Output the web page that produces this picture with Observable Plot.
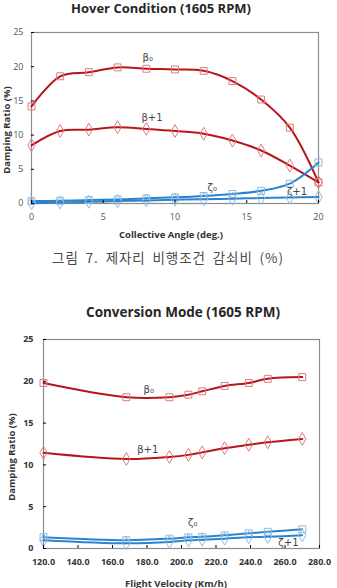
<!DOCTYPE html>
<html><head><meta charset="utf-8">
<script src="https://cdn.jsdelivr.net/npm/d3@7"></script>
<script src="https://cdn.jsdelivr.net/npm/@observablehq/plot@0.6"></script>
<style>
html,body{margin:0;padding:0;background:#fff}
body{width:337px;height:588px;position:relative;overflow:hidden;font-family:"Open Sans","DejaVu Sans",sans-serif}
.abs{position:absolute;white-space:nowrap;transform:translate(-50%,-50%)}
.title{font-weight:bold;font-size:13px;color:#262626}
.axt{font-weight:bold;font-size:9.5px;color:#333}
.rot{transform:translate(-50%,-50%) rotate(-90deg)}
.cap{font-family:"Noto Sans CJK KR",sans-serif;font-size:13.5px;color:#4a4a4a;letter-spacing:0.9px;word-spacing:3px}
#c1,#c2{position:absolute;left:0}
#c1{top:0}
#c2{top:300px}
</style>
</head><body>
<div class="abs title" style="left:161px;top:8px">Hover Condition (1605 RPM)</div>
<div class="abs axt rot" style="left:6px;top:130px">Damping Ratio (%)</div>
<div class="abs axt" style="left:171px;top:234px">Collective Angle (deg.)</div>
<div class="abs cap" style="left:168px;top:257px">그림 7. 제자리 비행조건 감쇠비 (%)</div>
<div class="abs title" style="left:183px;top:312px;font-size:13.5px">Conversion Mode (1605 RPM)</div>
<div class="abs axt rot" style="left:11px;top:457px">Damping Ratio (%)</div>
<div class="abs axt" style="left:176px;top:583px">Flight Velocity (Km/h)</div>
<div id="c1"></div>
<div id="c2"></div>
<script>
// ---- Hover condition data ----
const hoverAngle = [0, 2, 4, 6, 8, 10, 12, 14, 16, 18, 20];
const hoverBeta0 = [14.2, 18.6, 19.2, 19.9, 19.7, 19.6, 19.4, 17.9, 15.2, 11.1, 3.1];
const hoverBetaP1 = [8.5, 10.6, 10.8, 11.15, 10.9, 10.6, 10.2, 9.2, 7.75, 5.55, 3.1];
const hoverZeta0 = [0.35, 0.4, 0.5, 0.6, 0.75, 0.9, 1.1, 1.4, 1.85, 2.9, 6.0];
const hoverZetaP1 = [0.05, 0.15, 0.25, 0.35, 0.45, 0.55, 0.62, 0.7, 0.8, 0.88, 0.95];
const hoverXTicks = [0, 5, 10, 15, 20];
const hoverLabels = [
  {x: 8.1, y: 21.3, text: "β₀"},
  {x: 8.4, y: 12.6, text: "β+1"},
  {x: 12.6, y: 2.3, text: "ζ₀"},
  {x: 18.5, y: 1.75, text: "ζ+1"}
];

// ---- Conversion mode data ----
const convVelocity = [120, 168, 193, 204, 212, 225, 239, 250, 270];
const convBeta0 = [19.8, 18.1, 18.1, 18.4, 18.8, 19.45, 19.8, 20.3, 20.5];
const convBetaP1 = [11.45, 10.7, 10.95, 11.2, 11.5, 12.0, 12.4, 12.7, 13.1];
const convZeta0 = [1.35, 1.0, 1.18, 1.34, 1.4, 1.58, 1.82, 2.0, 2.3];
const convZetaP1 = [1.0, 0.62, 0.78, 0.98, 1.05, 1.18, 1.34, 1.4, 1.58];
const convXTicks = [120, 140, 160, 180, 200, 220, 240, 260, 280];
const convLabels = [
  {x: 181, y: 19.0, text: "β₀"},
  {x: 180.4, y: 11.8, text: "β+1"},
  {x: 206.5, y: 3.05, text: "ζ₀"},
  {x: 262, y: 0.65, text: "ζ+1"}
];

const yTicks = [0, 5, 10, 15, 20, 25];

const RED = "#b8141c", RED_M = "#e07a7a", BLUE = "#2a83cf", BLUE_M = "#8cbbe6";

function build(xs, series, opts) {
  const marks = [Plot.frame({stroke: "#8c8c8c", strokeWidth: 1.2})];
  for (const s of series) {
    const rows = xs.map((x, i) => ({x, y: s.values[i]}));
    marks.push(Plot.line(rows, {x: "x", y: "y", stroke: s.line, strokeWidth: 2, curve: "catmull-rom"}));
    marks.push(Plot.dot(rows, {x: "x", y: "y", symbol: s.symbol, r: 3.9, stroke: s.marker, strokeWidth: 1, fill: "none"}));
  }
  marks.push(Plot.text(opts.labels, {x: "x", y: "y", text: "text", fontSize: 10, fill: "#444", fontFamily: "DejaVu Sans, sans-serif"}));
  marks.push(Plot.axisX({ticks: opts.xTicks, tickFormat: opts.xFormat, tickSize: -3, tickPadding: 13, label: null, fill: opts.tickColor, fontWeight: opts.tickWeight}));
  marks.push(Plot.axisY({ticks: yTicks, tickSize: -3, tickPadding: opts.yPad, label: null, fill: opts.tickColor, fontWeight: opts.tickWeight}));
  return Plot.plot({
    width: 337, height: opts.height,
    marginLeft: opts.ml, marginRight: opts.mr, marginTop: opts.mt, marginBottom: opts.mb,
    style: {fontSize: "9px", fontFamily: "Open Sans, sans-serif", background: "transparent", overflow: "visible"},
    x: {domain: opts.xDomain},
    y: {domain: [0, 25]},
    marks
  });
}

document.getElementById("c1").appendChild(build(hoverAngle, [
  {values: hoverBeta0, line: RED, marker: RED_M, symbol: "square"},
  {values: hoverBetaP1, line: RED, marker: RED_M, symbol: "diamond"},
  {values: hoverZeta0, line: BLUE, marker: BLUE_M, symbol: "square"},
  {values: hoverZetaP1, line: BLUE, marker: BLUE_M, symbol: "diamond"}
], {height: 245, ml: 31, mr: 19, mt: 32, mb: 42, xDomain: [0, 20], xTicks: hoverXTicks, xFormat: d3.format("d"),
    labels: hoverLabels, tickColor: "#555", tickWeight: "normal", yPad: 11}));

document.getElementById("c2").appendChild(build(convVelocity, [
  {values: convBeta0, line: RED, marker: RED_M, symbol: "square"},
  {values: convBetaP1, line: RED, marker: RED_M, symbol: "diamond"},
  {values: convZeta0, line: BLUE, marker: BLUE_M, symbol: "square"},
  {values: convZetaP1, line: BLUE, marker: BLUE_M, symbol: "diamond"}
], {height: 288, ml: 43, mr: 18, mt: 39, mb: 40, xDomain: [120, 280], xTicks: convXTicks, xFormat: d3.format(".1f"),
    labels: convLabels, tickColor: "#333", tickWeight: "bold", yPad: 13}));
</script>
</body></html>
